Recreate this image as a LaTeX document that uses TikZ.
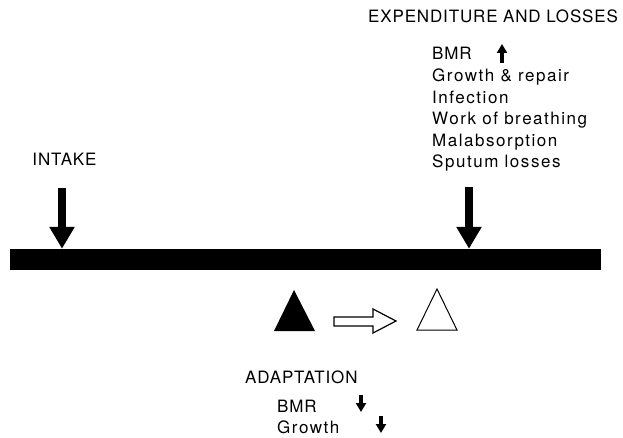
\documentclass[tikz,border=0pt]{standalone}
\usepackage{fontspec}
\setmainfont{TeX Gyre Heros}[LetterSpace=5]
\usetikzlibrary{arrows.meta}

\tikzset{
  txt/.style={font=\fontsize{17}{21}\selectfont, inner sep=0pt},
  lowtxt/.style={font=\fontsize{17}{21}\selectfont\addfontfeature{LetterSpace=9}, inner sep=0pt},
  heavy/.style={line width=8pt, -{Triangle[width=24pt,length=22pt]}},
  small/.style={line width=3.4pt, -{Triangle[width=10pt,length=9pt]}},
}

\begin{document}
\begin{tikzpicture}[x=1pt,y=-1pt]
  \useasboundingbox (0,0) rectangle (623,438);
  % Beam
  \node[fill=black, inner sep=0pt, minimum width=591pt, minimum height=21pt] (beam) at (305.5,259.5) {};
  % Intake side
  \node[txt, anchor=base] (intake) at (64.5,166) {INTAKE};
  \coordinate (intaketop) at (62,188);
  \draw[heavy] (intaketop) -- (intaketop |- beam.north);
  % Expenditure side
  \node[txt, anchor=base west] (expend) at (368,23) {EXPENDITURE AND LOSSES};
  \node[txt, anchor=base west] (bmrup) at (432,60) {BMR};
  \node[lowtxt, anchor=base west] (growthrep) at (432,81.6) {Growth \& repair};
  \node[lowtxt, anchor=base west] (infection) at (432,103.2) {Infection};
  \node[lowtxt, anchor=base west] (breathing) at (432,124.8) {Work of breathing};
  \node[lowtxt, anchor=base west] (malabs) at (432,146.4) {Malabsorption};
  \node[lowtxt, anchor=base west] (sputum) at (432,168) {Sputum losses};
  \draw[small] (502,63) -- (502,44);
  \coordinate (expendtop) at (469,187);
  \draw[heavy] (expendtop) -- (expendtop |- beam.north);
  % Fulcrum moving over
  \fill (274,331) -- (294,290) -- (315,331) -- cycle;
  \draw[line width=1.2pt] (334,317) -- (373,317) -- (373,309) -- (396,321)
    -- (373,333) -- (373,326) -- (334,326) -- cycle;
  \draw[line width=1pt] (417,330) -- (437,289) -- (457,330) -- cycle;
  % Adaptation
  \node[txt, anchor=base west] (adapt) at (245,383) {ADAPTATION};
  \node[txt, anchor=base west] (bmrdown) at (277,412) {BMR};
  \node[lowtxt, anchor=base west] (growthdown) at (277,433) {Growth};
  \draw[small] (361,395) -- (361,412);
  \draw[small] (381,416) -- (381,433);
\end{tikzpicture}
\end{document}
